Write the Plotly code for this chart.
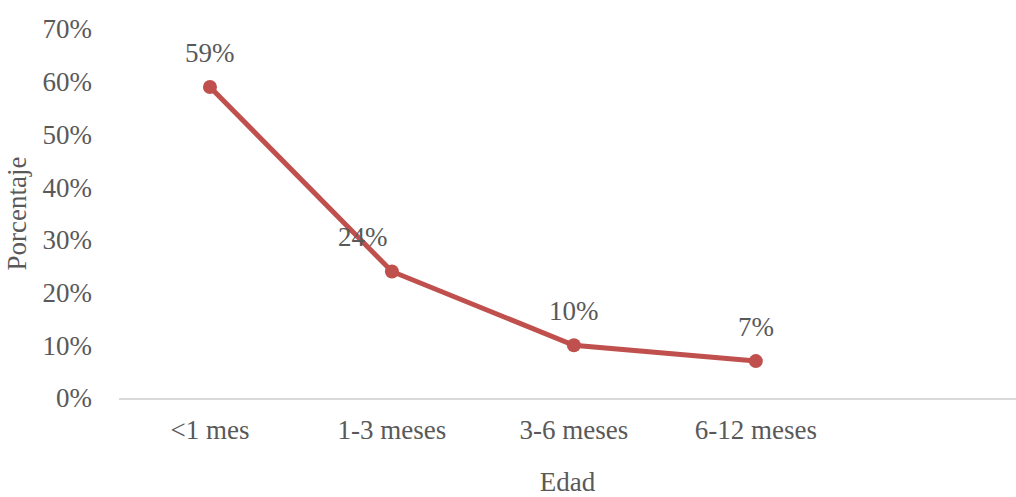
import plotly.graph_objects as go

categories = ["<1 mes", "1-3 meses", "3-6 meses", "6-12 meses"]
values = [59, 24, 10, 7]
labels = ["59%", "24%", "10%", "7%"]
label_xshift = [0, -29, 0, 0]
yticks = [0, 10, 20, 30, 40, 50, 60, 70]
yticklabels = [f"{v}%" for v in yticks]

FONT = "Liberation Serif, Times New Roman, serif"
GRAY = "#595959"
RED = "#C0504D"
FS = 27

fig = go.Figure()
fig.add_trace(go.Scatter(
    x=list(range(len(categories))), y=values, mode="lines+markers",
    line=dict(color=RED, width=5),
    marker=dict(color=RED, size=14),
    hoverinfo="skip", showlegend=False,
))
for i, (v, t) in enumerate(zip(values, labels)):
    fig.add_annotation(x=i, y=v, text=t, showarrow=False, yshift=34,
                       xshift=label_xshift[i],
                       font=dict(family=FONT, size=FS, color=GRAY))

fig.update_layout(
    width=1016, height=497,
    margin=dict(l=119, r=0, t=29, b=99),
    paper_bgcolor="white", plot_bgcolor="white",
    font=dict(family=FONT, size=FS, color=GRAY),
)
fig.update_xaxes(
    range=[-0.5, 4.43], tickvals=list(range(len(categories))), ticktext=categories,
    showgrid=False, zeroline=False, showline=True, linecolor="#D9D9D9", linewidth=2,
    ticks="", ticklabelstandoff=7,
    title=dict(text="Edad", font=dict(family=FONT, size=FS, color=GRAY), standoff=34),
)
fig.update_yaxes(
    range=[0, 70], tickvals=yticks, ticktext=yticklabels,
    showgrid=False, zeroline=False, showline=False, ticks="",
    ticklabelstandoff=26,
    title=dict(text="Porcentaje", font=dict(family=FONT, size=FS, color=GRAY), standoff=8),
)
fig.write_html("out.html")
